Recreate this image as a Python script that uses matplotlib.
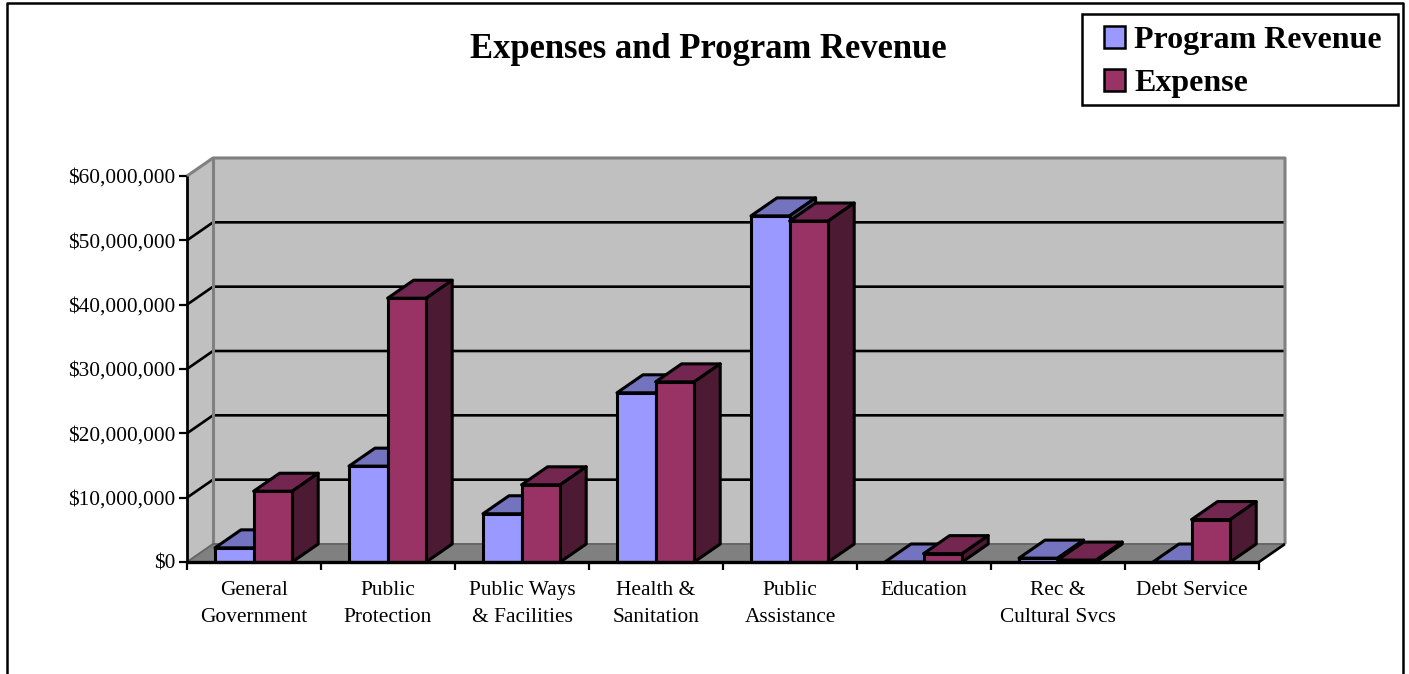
import matplotlib
matplotlib.use("Agg")
import matplotlib.pyplot as plt
from matplotlib.lines import Line2D
from matplotlib.patches import Patch, Polygon, Rectangle

categories = ["General\nGovernment", "Public\nProtection", "Public Ways\n& Facilities",
              "Health &\nSanitation", "Public\nAssistance", "Education",
              "Rec &\nCultural Svcs", "Debt Service"]
program_revenue = [2.2e6, 14.9e6, 7.5e6, 26.3e6, 53.8e6, 0, 0.6e6, 0]
expense = [11.0e6, 41.0e6, 12.0e6, 28.0e6, 53.0e6, 1.3e6, 0.3e6, 6.6e6]
y_ticks = [0, 10e6, 20e6, 30e6, 40e6, 50e6, 60e6]
y_labels = ["$0", "$10,000,000", "$20,000,000", "$30,000,000",
            "$40,000,000", "$50,000,000", "$60,000,000"]

W, H = 1409, 674
plt.rcParams["font.family"] = ["Liberation Serif", "DejaVu Serif"]
fig = plt.figure(figsize=(W / 100, H / 100), dpi=100, facecolor="white")
ax = fig.add_axes([187 / W, (H - 562) / H, 1072 / W, 386 / H])
n = len(categories)
ax.set_xlim(0, n)
ax.set_ylim(0, 60e6)
ax.patch.set_visible(False)
for s in ax.spines.values():
    s.set_visible(False)

# Oblique projection: depth expressed in data units
DX = 26 / 134
DY = 18 / 386 * 60e6
EDGE = 2.2
GRID = 1.9
WALL = "#C0C0C0"
FLOOR = "#808080"


def poly(pts, face, edge="none", lw=0, z=1):
    ax.add_patch(Polygon(pts, closed=True, facecolor=face, edgecolor=edge,
                         linewidth=lw, zorder=z, clip_on=False, joinstyle="round"))


def seg(xs, ys, color, lw, z=2):
    ax.add_line(Line2D(xs, ys, color=color, lw=lw, zorder=z, clip_on=False,
                       solid_capstyle="butt"))


top = y_ticks[-1]
# Walls and floor
poly([(DX, DY), (n + DX, DY), (n + DX, top + DY), (DX, top + DY)], WALL)
poly([(0, 0), (DX, DY), (DX, top + DY), (0, top)], WALL)
poly([(0, 0), (n, 0), (n + DX, DY), (DX, DY)], FLOOR)

# Gridlines across the back and side walls
for v in y_ticks[1:-1]:
    seg([0, DX, n + DX], [v, v + DY, v + DY], "black", GRID)
seg([0, DX, n + DX, n + DX], [top, top + DY, top + DY, DY], FLOOR, 2.2)
seg([DX, DX], [DY, top + DY], FLOOR, 2.2)
seg([0, DX, n + DX], [0, DY, DY], "#666666", 1.4)
seg([n, n + DX], [0, DY], "black", GRID)

# Bars: two per category, each with front, top and side faces
BAR_W = 38.6 / 134
GAP = 28 / 134
series = [
    (program_revenue, 0, "#9999FF", "#7373BF", "#4D4D80"),
    (expense, 1, "#993366", "#732650", "#4D1A33"),
]
for i in range(n):
    for values, slot, front, top_c, side_c in series:
        v = values[i]
        x0 = i + GAP + slot * BAR_W
        x1 = x0 + BAR_W
        z = 3 + i + slot * 0.5
        poly([(x0, v), (x0 + DX, v + DY), (x1 + DX, v + DY), (x1, v)], top_c, "black", EDGE, z)
        if v > 0:
            poly([(x1, 0), (x1 + DX, DY), (x1 + DX, v + DY), (x1, v)], side_c, "black", EDGE, z)
            ax.bar(x0, v, width=BAR_W, align="edge", color=front, edgecolor="black",
                   linewidth=EDGE, zorder=z + 0.1, clip_on=False)

# Axis lines sit above the bar bases
seg([0, n], [0, 0], "black", 2.4, z=20)
seg([0, 0], [0, top], "black", 2.0, z=20)

ax.set_xticks(range(n + 1))
ax.set_xticklabels([])
ax.set_xticks([i + 0.5 for i in range(n)], categories, minor=True)
ax.tick_params(axis="x", which="major", length=5.5, width=1.6, color="black")
ax.tick_params(axis="x", which="minor", length=0, pad=14, labelsize=15.4)
ax.set_yticks(y_ticks, y_labels)
ax.tick_params(axis="y", length=5.5, width=1.6, color="black", pad=3, labelsize=15.4)
for lab in ax.get_xticklabels(minor=True):
    lab.set_linespacing(1.56)

fig.text(708.5 / W, 1 - 50 / H, "Expenses and Program Revenue", ha="center", va="center",
         fontsize=24.9, fontweight="bold", color="black")

# Outer frame, open at the bottom edge
fig.add_artist(Line2D([7 / W, 7 / W, 1403 / W, 1403 / W], [0, 1 - 3 / H, 1 - 3 / H, 0],
                      transform=fig.transFigure, color="black", lw=1.8))

# Legend box drawn separately so its padding can differ per side
fig.add_artist(Rectangle((1082 / W, 1 - 105 / H), 316 / W, 91 / H, transform=fig.transFigure,
                         facecolor="white", edgecolor="black", linewidth=1.8, zorder=5))
handles = [Patch(facecolor="#9999FF", edgecolor="black", linewidth=1.8),
           Patch(facecolor="#993366", edgecolor="black", linewidth=1.8)]
leg = fig.legend(handles, ["Program Revenue", "Expense"], loc="upper left",
                 bbox_to_anchor=(1104 / W, 1 - 26 / H), bbox_transform=fig.transFigure,
                 prop={"family": "Liberation Serif", "weight": "bold", "size": 23},
                 frameon=False, borderaxespad=0, handlelength=0.66, handleheight=0.66,
                 handletextpad=0.28, labelspacing=0.44, borderpad=0)
leg.set_zorder(6)

fig.savefig("out.png", dpi=100)
